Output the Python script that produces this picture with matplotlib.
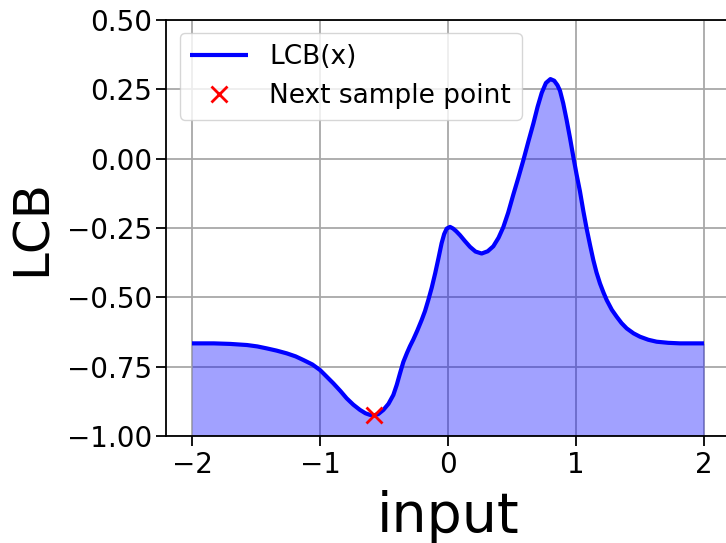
import matplotlib
matplotlib.use("Agg")
import matplotlib.pyplot as plt

# Data
x_vals = [-2.00, -1.83, -1.70, -1.57, -1.49, -1.417, -1.34, -1.26, -1.19, -1.13,
          -1.06, -1.00, -0.95, -0.896, -0.84, -0.792, -0.74, -0.6875, -0.645,
          -0.609, -0.576, -0.545, -0.505, -0.465, -0.427, -0.40, -0.375,
          -0.349, -0.32, -0.297, -0.271, -0.24, -0.206, -0.18, -0.154, -0.127,
          -0.10, -0.075, -0.05, -0.03, -0.01, 0.016, 0.04, 0.065, 0.094, 0.13,
          0.172, 0.215, 0.263, 0.31, 0.354, 0.395, 0.432, 0.47, 0.51, 0.55,
          0.589, 0.628, 0.667, 0.70, 0.732, 0.765, 0.80, 0.83, 0.855, 0.875,
          0.90, 0.927, 0.953, 0.979, 1.005, 1.031, 1.057, 1.083, 1.11, 1.135,
          1.16, 1.1875, 1.215, 1.24, 1.28, 1.318, 1.356, 1.396, 1.45, 1.50,
          1.565, 1.63, 1.72, 1.8125, 1.90, 2.00]
lcb_vals = [-0.666, -0.666, -0.668, -0.672, -0.677, -0.684, -0.692, -0.702,
            -0.713, -0.726, -0.742, -0.762, -0.785, -0.810, -0.838, -0.864,
            -0.887, -0.906, -0.918, -0.924, -0.925, -0.921, -0.906, -0.884,
            -0.852, -0.815, -0.774, -0.733, -0.700, -0.676, -0.652, -0.620,
            -0.582, -0.550, -0.510, -0.465, -0.413, -0.360, -0.305, -0.272,
            -0.252, -0.246, -0.252, -0.262, -0.276, -0.296, -0.318, -0.335,
            -0.342, -0.334, -0.316, -0.285, -0.247, -0.195, -0.130, -0.068,
            -0.005, 0.062, 0.127, 0.187, 0.237, 0.273, 0.287, 0.281, 0.265,
            0.245, 0.200, 0.139, 0.075, 0.007, -0.058, -0.118, -0.188, -0.252,
            -0.312, -0.365, -0.410, -0.450, -0.483, -0.510, -0.545, -0.570,
            -0.593, -0.612, -0.630, -0.642, -0.653, -0.660, -0.664, -0.666,
            -0.666, -0.666]
next_x = [-0.576]
next_y = [-0.924]
x_ticks = [-2, -1, 0, 1, 2]
x_tick_labels = ["\u22122", "\u22121", "0", "1", "2"]
y_ticks = [-1.00, -0.75, -0.50, -0.25, 0.00, 0.25, 0.50]
y_tick_labels = ["\u22121.00", "\u22120.75", "\u22120.50", "\u22120.25",
                 "0.00", "0.25", "0.50"]

fig = plt.figure(figsize=(7.26, 5.43), dpi=100)
ax = fig.add_axes([166.4 / 726, 107 / 543, 563.2 / 726, 416 / 543])

ax.fill_between(x_vals, lcb_vals, -1.0, color="blue", alpha=0.37, linewidth=0)
ax.plot(x_vals, lcb_vals, color="blue", linewidth=3, label="LCB(x)", zorder=3,
        solid_joinstyle="round", solid_capstyle="butt")
ax.plot(next_x, next_y, linestyle="none", marker="x", color="red",
        markersize=12, markeredgewidth=2, label="Next sample point", zorder=4)

ax.set_xlim(-2.2, 2.2)
ax.set_ylim(-1.0, 0.5)
ax.set_xticks(x_ticks)
ax.set_yticks(y_ticks)
ax.set_xticklabels(x_tick_labels)
ax.set_yticklabels(y_tick_labels)
ax.tick_params(labelsize=20, length=7, width=1.3)
ax.grid(True, color="#a8a8a8", linewidth=1.3)
ax.set_axisbelow(True)
for s in ax.spines.values():
    s.set_linewidth(1.3)

ax.set_xlabel("input", fontsize=40, labelpad=8)
ax.set_ylabel("LCB", fontsize=36, labelpad=8)

ax.legend(loc="upper left", fontsize=19, handlelength=2.2,
          bbox_to_anchor=(0.0, 1.0), borderaxespad=0.5)

fig.savefig("out.png", dpi=100)
